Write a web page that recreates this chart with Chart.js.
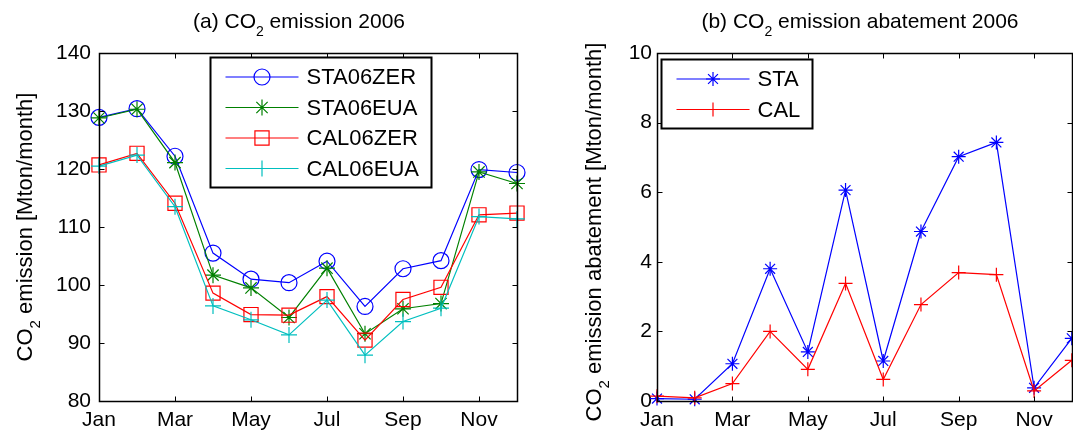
<!DOCTYPE html>
<html>
<head>
<meta charset="utf-8">
<script src="https://cdn.jsdelivr.net/npm/chart.js@4.4.1/dist/chart.umd.min.js"></script>
<style>
  html, body { margin: 0; padding: 0; background: #fff; overflow: hidden; width: 1073px; height: 434px; }
  canvas { position: absolute; top: 0; }
  #emission { left: 0; }
  #abatement { left: 540px; }
</style>
</head>
<body>
<canvas id="emission" width="540" height="434"></canvas>
<canvas id="abatement" width="540" height="434"></canvas>
<script>
const months = ['Jan', 'Feb', 'Mar', 'Apr', 'May', 'Jun', 'Jul', 'Aug', 'Sep', 'Oct', 'Nov', 'Dec'];

// (a) monthly CO2 emission, Mton/month
const sta06zer = [128.9, 130.4, 122.2, 105.5, 101.0, 100.4, 104.1, 96.3, 102.8, 104.2, 119.9, 119.4];
const sta06eua = [128.8, 130.3, 121.1, 101.7, 99.5, 94.4, 102.9, 91.6, 95.9, 96.8, 119.5, 117.5];
const cal06zer = [120.7, 122.7, 114.1, 98.6, 94.9, 94.8, 98.0, 90.5, 97.5, 99.6, 112.1, 112.4];
const cal06eua = [120.5, 122.4, 113.5, 96.4, 94.0, 91.4, 97.4, 87.9, 93.7, 96.0, 111.8, 111.4];

// (b) monthly CO2 emission abatement, Mton/month
const staAbatement = [0.07, 0.05, 1.07, 3.80, 1.41, 6.06, 1.15, 4.87, 7.02, 7.43, 0.38, 1.8];
const calAbatement = [0.14, 0.09, 0.50, 2.00, 0.91, 3.38, 0.62, 2.77, 3.69, 3.63, 0.29, 1.17];

const FONT = '"Liberation Sans", Arial, Helvetica, sans-serif';

function series(values) {
  return values.map((v, i) => ({ x: i, y: v }));
}

function drawMarker(ctx, style, r, x, y) {
  ctx.beginPath();
  if (style === 'circle') {
    ctx.arc(x, y, r, 0, Math.PI * 2);
  } else if (style === 'rect') {
    const s = r * Math.SQRT1_2;
    ctx.rect(x - s, y - s, 2 * s, 2 * s);
  } else {
    ctx.moveTo(x - r, y); ctx.lineTo(x + r, y);
    ctx.moveTo(x, y - r); ctx.lineTo(x, y + r);
    if (style === 'star') {
      const d = r * Math.SQRT1_2;
      ctx.moveTo(x - d, y - d); ctx.lineTo(x + d, y + d);
      ctx.moveTo(x - d, y + d); ctx.lineTo(x + d, y - d);
    }
  }
  ctx.stroke();
}

// text with one subscript part: parts = [before, sub, after]
function drawSubText(ctx, parts, cx, baseline, size, subSize, subDrop) {
  const main = size + 'px ' + FONT, small = subSize + 'px ' + FONT;
  ctx.font = main;
  const w0 = ctx.measureText(parts[0]).width;
  const w2 = ctx.measureText(parts[2]).width;
  ctx.font = small;
  const w1 = ctx.measureText(parts[1]).width;
  let x = cx - (w0 + w1 + w2) / 2;
  ctx.textAlign = 'left';
  ctx.textBaseline = 'alphabetic';
  ctx.font = main; ctx.fillText(parts[0], x, baseline); x += w0;
  ctx.font = small; ctx.fillText(parts[1], x, baseline + subDrop); x += w1;
  ctx.font = main; ctx.fillText(parts[2], x, baseline);
}

const matlabAxes = {
  id: 'matlabAxes',
  afterDraw(chart, args, opts) {
    const { ctx, chartArea: a, scales } = chart;
    const L = Math.round(a.left) + 0.5, R = Math.round(a.right) + 0.5;
    const T = Math.round(a.top) + 0.5, B = Math.round(a.bottom) + 0.5;
    ctx.save();
    ctx.strokeStyle = '#000';
    ctx.fillStyle = '#000';

    // inward ticks on all four sides
    ctx.lineWidth = 1;
    ctx.beginPath();
    scales.x.ticks.forEach(t => {
      const px = Math.round(scales.x.getPixelForValue(t.value)) + 0.5;
      ctx.moveTo(px, B); ctx.lineTo(px, B - 5);
      ctx.moveTo(px, T); ctx.lineTo(px, T + 5);
    });
    scales.y.ticks.forEach(t => {
      const py = Math.round(scales.y.getPixelForValue(t.value)) + 0.5;
      ctx.moveTo(L, py); ctx.lineTo(L + 5, py);
      ctx.moveTo(R, py); ctx.lineTo(R - 5, py);
    });
    ctx.stroke();

    // axes box
    ctx.lineWidth = 1.5;
    ctx.strokeRect(L, T, R - L, B - T);

    // panel title
    drawSubText(ctx, opts.title, opts.titleX, 28, 21, 14, 8);

    // rotated y label
    ctx.save();
    ctx.translate(opts.ylabelX, opts.ylabelY);
    ctx.rotate(-Math.PI / 2);
    drawSubText(ctx, opts.ylabel, 0, 0, 22, 15, 8);
    ctx.restore();

    // legend
    const lg = opts.legend;
    const sets = chart.data.datasets;
    ctx.font = '22px ' + FONT;
    const tw = Math.max(...sets.map(d => ctx.measureText(d.label).width));
    const bx = Math.round(a.left + lg.dx) + 0.5, by = Math.round(a.top + lg.dy) + 0.5;
    const bw = Math.round(96 + tw + 12), bh = Math.round(sets.length * 30.5 + 7.5);
    ctx.fillStyle = '#fff';
    ctx.fillRect(bx, by, bw, bh);
    ctx.lineWidth = 2;
    ctx.strokeStyle = '#000';
    ctx.strokeRect(bx, by, bw, bh);
    sets.forEach((d, i) => {
      const ry = by + 19.5 + i * 30.5;
      ctx.strokeStyle = d.borderColor;
      ctx.lineWidth = d.borderWidth;
      ctx.beginPath();
      ctx.moveTo(bx + 15, ry); ctx.lineTo(bx + 88, ry);
      ctx.stroke();
      drawMarker(ctx, d.pointStyle, d.pointRadius, bx + 51.5, ry);
      ctx.fillStyle = '#000';
      ctx.font = '22px ' + FONT;
      ctx.textAlign = 'left';
      ctx.textBaseline = 'middle';
      ctx.fillText(d.label, bx + 96, ry + 1);
    });
    ctx.restore();
  }
};

function lineSet(label, values, color, style, radius, order) {
  return {
    label: label,
    data: series(values),
    borderColor: color,
    borderWidth: 1.2,
    pointStyle: style,
    pointRadius: radius,
    pointHoverRadius: radius,
    pointBorderColor: color,
    pointBackgroundColor: 'rgba(0,0,0,0)',
    pointBorderWidth: 1.2,
    tension: 0,
    fill: false,
    clip: false,
    order: order
  };
}

function axisOptions(yMin, yMax, yStep, yWidth, yPad) {
  return {
    x: {
      type: 'linear', min: 0, max: 11,
      grid: { display: false, drawTicks: false },
      border: { display: false },
      ticks: {
        stepSize: 2, includeBounds: false, autoSkip: false, maxRotation: 0,
        padding: 7, color: '#000', font: { family: FONT, size: 21 },
        callback: v => months[v]
      },
      afterFit: s => { s.height = 33; }
    },
    y: {
      type: 'linear', min: yMin, max: yMax,
      grid: { display: false, drawTicks: false },
      border: { display: false },
      ticks: {
        stepSize: yStep, padding: yPad, color: '#000', font: { family: FONT, size: 21 }
      },
      afterFit: s => { s.width = yWidth; }
    }
  };
}

Chart.defaults.font.family = FONT;

new Chart(document.getElementById('emission'), {
  type: 'line',
  data: {
    datasets: [
      lineSet('STA06ZER', sta06zer, '#0000ff', 'circle', 8, 3),
      lineSet('STA06EUA', sta06eua, '#008000', 'star', 8, 2),
      lineSet('CAL06ZER', cal06zer, '#ff0000', 'rect', 10, 1),
      lineSet('CAL06EUA', cal06eua, '#00bfbf', 'cross', 8, 0)
    ]
  },
  options: {
    responsive: false,
    animation: false,
    devicePixelRatio: 1,
    events: [],
    layout: { padding: { left: 0, right: 23, top: 53, bottom: 0 } },
    scales: axisOptions(80, 140, 10, 99, 8),
    plugins: {
      legend: { display: false },
      tooltip: { enabled: false },
      matlabAxes: {
        title: ['(a) CO', '2', ' emission 2006'],
        titleX: 299,
        ylabel: ['CO', '2', ' emission [Mton/month]'],
        ylabelX: 32, ylabelY: 227,
        legend: { dx: 111, dy: 4 }
      }
    }
  },
  plugins: [matlabAxes]
});

new Chart(document.getElementById('abatement'), {
  type: 'line',
  data: {
    datasets: [
      lineSet('STA', staAbatement, '#0000ff', 'star', 7, 1),
      lineSet('CAL', calAbatement, '#ff0000', 'cross', 7, 0)
    ]
  },
  options: {
    responsive: false,
    animation: false,
    devicePixelRatio: 1,
    events: [],
    layout: { padding: { left: 0, right: 5, top: 53, bottom: 0 } },
    scales: axisOptions(0, 10, 2, 117, 5),
    plugins: {
      legend: { display: false },
      tooltip: { enabled: false },
      matlabAxes: {
        title: ['(b) CO', '2', ' emission abatement 2006'],
        titleX: 320,
        ylabel: ['CO', '2', ' emission abatement [Mton/month]'],
        ylabelX: 61, ylabelY: 232,
        legend: { dx: 4, dy: 6 }
      }
    }
  },
  plugins: [matlabAxes]
});
</script>
</body>
</html>
